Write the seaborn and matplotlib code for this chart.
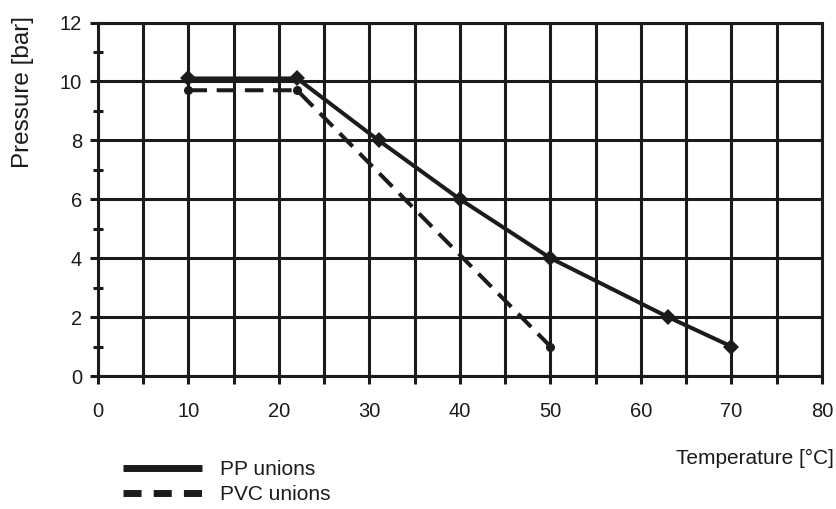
import matplotlib
matplotlib.use("Agg")
import matplotlib.pyplot as plt
import seaborn as sns
import pandas as pd
from matplotlib.lines import Line2D
from matplotlib.ticker import MultipleLocator

pp_temp = [10, 22, 31, 40, 50, 63, 70]
pp_pressure = [10.1, 10.1, 8, 6, 4, 2, 1]
pvc_temp = [10, 22, 50]
pvc_pressure = [9.7, 9.7, 1]
x_ticks = [0, 10, 20, 30, 40, 50, 60, 70, 80]
y_ticks = [0, 2, 4, 6, 8, 10, 12]

sns.set_theme(style="white")
plt.rcParams['font.family'] = ['Liberation Sans', 'DejaVu Sans']

INK = '#1c1a1a'
GRID_LW = 2.2

fig = plt.figure(figsize=(8.37, 5.09), dpi=100)
ax = fig.add_axes([98/837, 1-376/509, 724/837, 353.5/509])

ax.set_xlim(0, 80)
ax.set_ylim(0, 12)

ax.xaxis.set_major_locator(MultipleLocator(5))
ax.yaxis.set_major_locator(MultipleLocator(2))
ax.yaxis.set_minor_locator(MultipleLocator(1))
ax.grid(True, which='major', color=INK, linewidth=GRID_LW)
ax.set_axisbelow(True)
for s in ax.spines.values():
    s.set_visible(True)
    s.set_color(INK)
    s.set_linewidth(GRID_LW)

df_pp = pd.DataFrame({"t": pp_temp, "p": pp_pressure})
df_pvc = pd.DataFrame({"t": pvc_temp, "p": pvc_pressure})

sns.lineplot(data=df_pvc, x="t", y="p", ax=ax, color=INK, linewidth=2.9,
             marker='o', markersize=6.5, markeredgewidth=0, zorder=3,
             linestyle=(0, (4.6, 2.4)), clip_on=False)
sns.lineplot(data=df_pp, x="t", y="p", ax=ax, color=INK, linewidth=2.9,
             marker='D', markersize=8.5, markeredgewidth=0, zorder=4, clip_on=False)

ax.set_xticks(list(range(0, 81, 5)))
ax.set_xticklabels([str(v) if v in x_ticks else "" for v in range(0, 81, 5)])
ax.set_yticks(y_ticks)
ax.set_yticklabels([str(v) for v in y_ticks])
ax.tick_params(axis='x', which='major', direction='out', length=6, width=GRID_LW,
               color=INK, labelsize=14.5, pad=13, bottom=True, labelcolor=INK)
ax.tick_params(axis='y', which='major', direction='out', length=5.5, width=GRID_LW,
               color=INK, labelsize=14.5, pad=6, left=True, labelcolor=INK)
ax.tick_params(axis='y', which='minor', direction='inout', length=7.5, width=GRID_LW,
               color=INK, left=True)
ax.set_xlabel("")
ax.set_ylabel("")

fig.text(23/837, 1-92/509, "Pressure [bar]", rotation=90, ha='center', va='center',
         fontsize=17.5, color=INK)
fig.text(834/837, 1-458/509, "Temperature [°C]", ha='right', va='center',
         fontsize=15, color=INK)

handles = [
    Line2D([], [], color=INK, linewidth=5.0, solid_capstyle='butt'),
    Line2D([], [], color=INK, linewidth=5.0, linestyle=(0, (2.6, 1.75)),
           dash_capstyle='butt'),
]
fig.legend(handles, ["PP unions", "PVC unions"], loc='upper left',
           bbox_to_anchor=(123/837, 1-460/509), frameon=False, fontsize=15,
           handlelength=3.8, handletextpad=0.85, labelspacing=0.3, borderpad=0,
           borderaxespad=0, labelcolor=INK)

fig.savefig("out.png", dpi=100)
